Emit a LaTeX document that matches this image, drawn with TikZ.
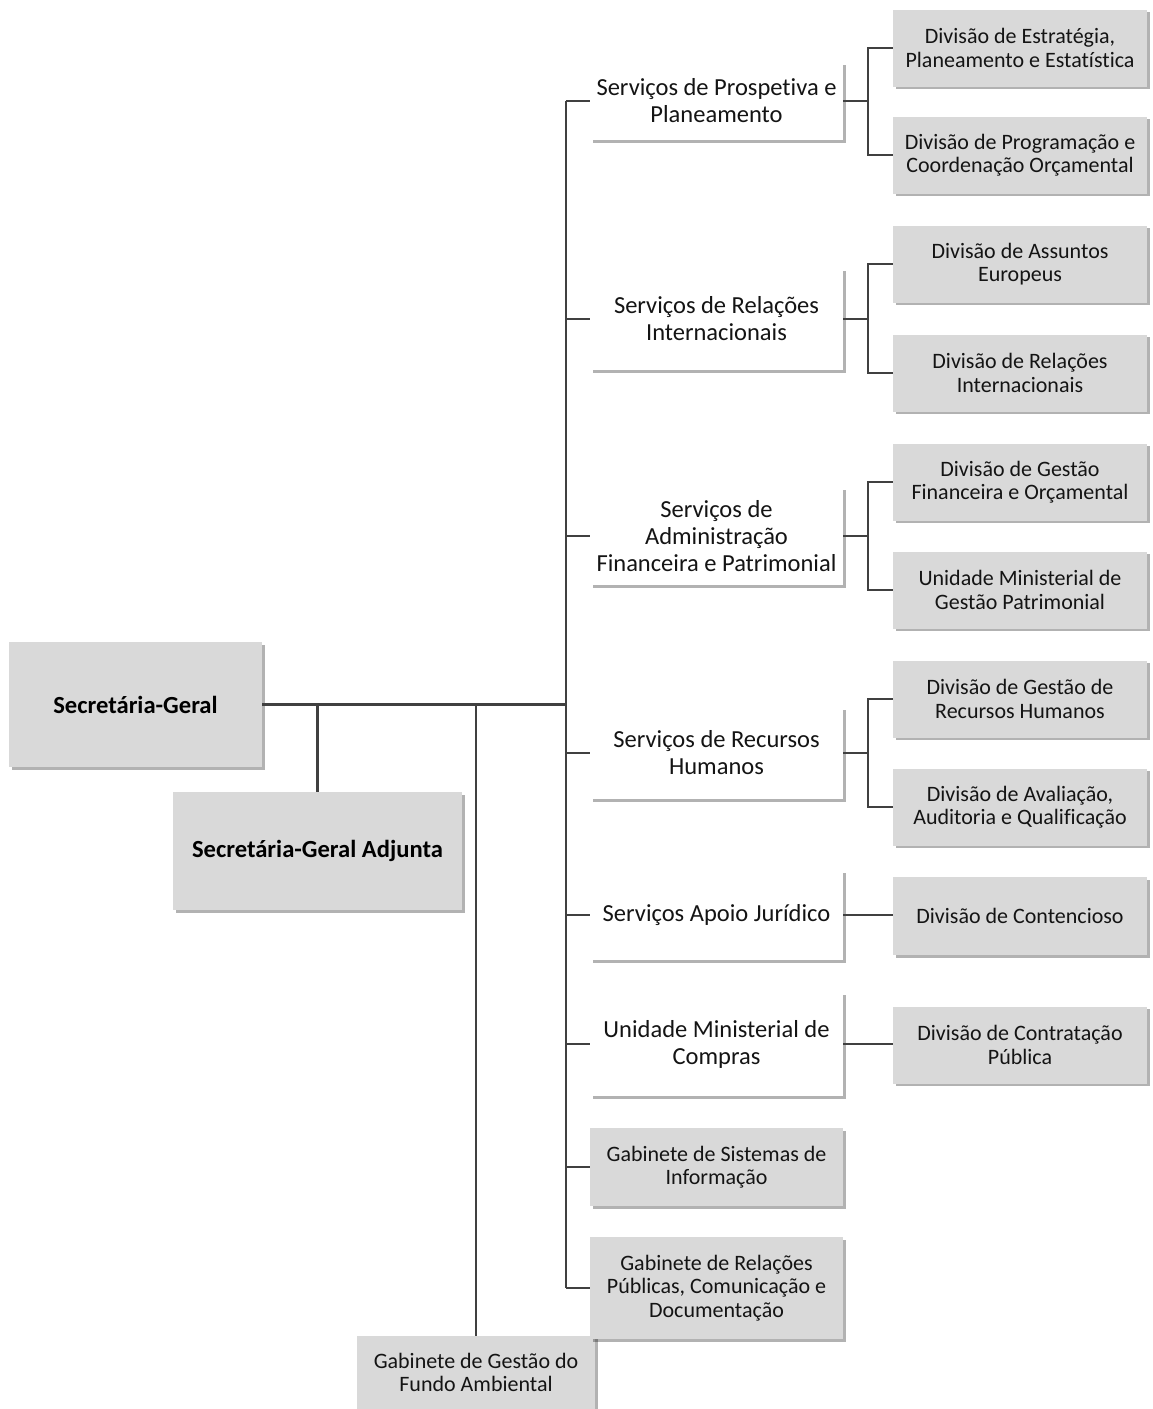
\documentclass[tikz,border=0pt]{standalone}
\usepackage{fontspec}
\setmainfont{Carlito}[Ligatures=NoCommon]
\usepackage{tikz}
\usetikzlibrary{positioning,shadows,calc}
\definecolor{boxgray}{RGB}{217,217,217}
\definecolor{linegray}{RGB}{64,64,64}
\definecolor{txtgray}{RGB}{20,20,20}
\tikzstyle{unit}=[fill=white,inner sep=0pt,align=center,text=txtgray,
  minimum width=253pt,font=\fontsize{24.5}{27}\selectfont,
  drop shadow={shadow xshift=2.5pt,shadow yshift=-2.5pt,opacity=0.3,fill=black}]
\tikzstyle{division}=[unit,fill=boxgray,minimum width=254pt,minimum height=77pt,
  font=\fontsize{22}{23.5}\selectfont]
\tikzstyle{chief}=[unit,fill=boxgray,text=black,font=\fontsize{24.6}{27}\selectfont\bfseries]
\tikzstyle{link}=[draw=linegray,line width=2.2pt]

\begin{document}
\begin{tikzpicture}[x=1pt,y=-1pt]
  \useasboundingbox (0,0) rectangle (1152,1409);
  % direcao
  \node[chief,minimum width=253pt,minimum height=125pt] (sg) at (135.5,704.5) {Secretária-Geral};
  \node[chief,minimum width=289pt,minimum height=118pt] (sga) at (317.5,851) {Secretária-Geral Adjunta};
  \node[division,minimum width=238pt,minimum height=73pt] (gfa) at (476,1372.5) {Gabinete de Gestão do\\Fundo Ambiental};

  % servicos
  \node[unit,minimum height=78pt]  (spp)  at (716.5,101)  {Serviços de Prospetiva e\\Planeamento};
  \node[unit,minimum height=102pt] (sri)  at (716.5,319)  {Serviços de Relações\\Internacionais};
  \node[unit,minimum height=98pt]  (safp) at (716.5,536)  {Serviços de\\Administração\\Financeira e Patrimonial};
  \node[unit,minimum height=92pt]  (srh)  at (716.5,753)  {Serviços de Recursos\\Humanos};
  \node[unit,minimum height=90pt]  (saj)  at (716.5,915)  {Serviços Apoio Jurídico};
  \node[unit,minimum height=104pt] (umc)  at (716.5,1044) {Unidade Ministerial de\\Compras};
  \node[division,minimum width=253pt,minimum height=78pt]  (gsi) at (716.5,1167) {Gabinete de Sistemas de\\Informação};
  \node[division,minimum width=253pt,minimum height=102pt] (grp) at (716.5,1288) {Gabinete de Relações\\Públicas, Comunicação e\\Documentação};

  % divisoes
  \node[division] (dep)  at (1020,48)   {Divisão de Estratégia,\\Planeamento e Estatística};
  \node[division] (dpco) at (1020,155)  {Divisão de Programação e\\Coordenação Orçamental};
  \node[division] (dae)  at (1020,264)  {Divisão de Assuntos\\Europeus};
  \node[division] (dri)  at (1020,373)  {Divisão de Relações\\Internacionais};
  \node[division] (dgfo) at (1020,482)  {Divisão de Gestão\\Financeira e Orçamental};
  \node[division] (umgp) at (1020,590)  {Unidade Ministerial de\\Gestão Patrimonial};
  \node[division] (dgrh) at (1020,699)  {Divisão de Gestão de\\Recursos Humanos};
  \node[division] (daaq) at (1020,807)  {Divisão de Avaliação,\\Auditoria e Qualificação};
  \node[division,minimum height=78pt] (dc) at (1020,916) {Divisão de Contencioso};
  \node[division] (dcp)  at (1020,1045) {Divisão de Contratação\\Pública};

  % ligacoes
  \coordinate (trunk) at (566,704.5);
  \path[link]
    (sg.east) -- (trunk)
    (spp.west -| trunk) -- (grp.west -| trunk)
    (sg.east -| sga) -- (sga.north)
    (sg.east -| gfa) -- (gfa.north);
  \foreach \n in {spp,sri,safp,srh,saj,umc,gsi,grp}
    \draw[link] (\n.west) -- (\n.west -| trunk);
  \foreach \p/\a/\b in {spp/dep/dpco,sri/dae/dri,safp/dgfo/umgp,srh/dgrh/daaq}{
    \draw[link] (\p.east) -- ++(25,0);
    \draw[link] (\a.west) -- ++(-25,0) |- (\b.west);
  }
  \draw[link] (saj.east) -- (saj.east -| dc.west);
  \draw[link] (umc.east) -- (umc.east -| dcp.west);
\end{tikzpicture}
\end{document}
